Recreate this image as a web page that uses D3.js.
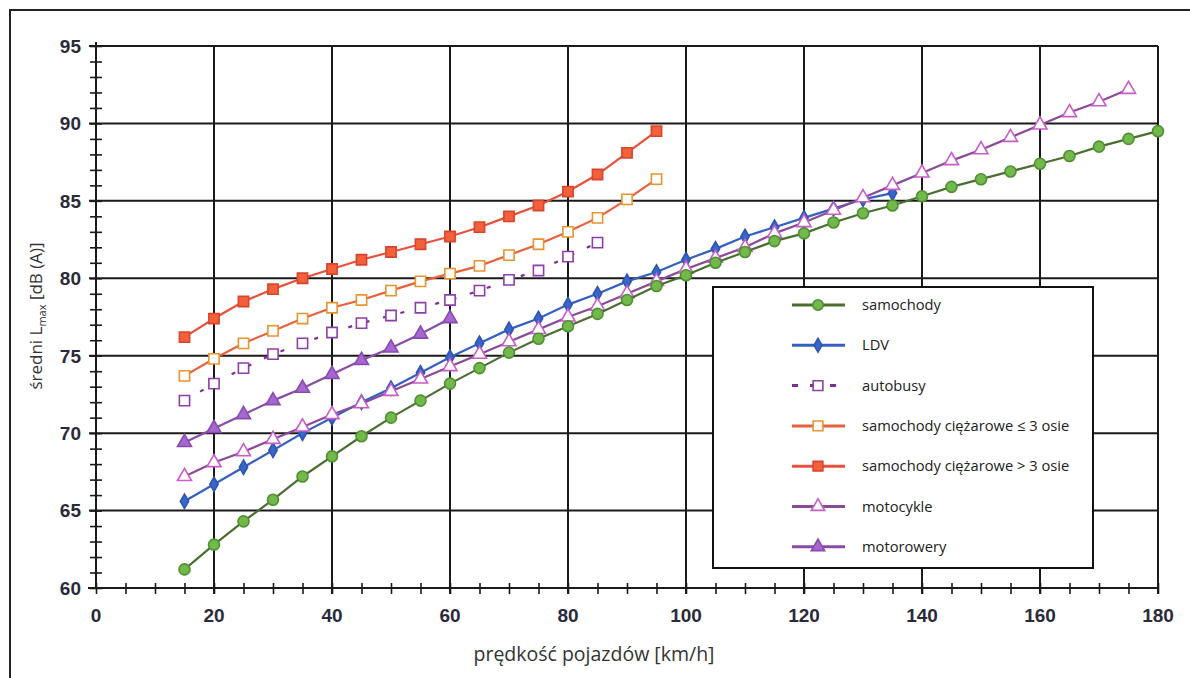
<!DOCTYPE html>
<html>
<head>
<meta charset="utf-8">
<script src="https://cdn.jsdelivr.net/npm/d3@7"></script>
<style>
  body { margin: 0; background: #fff; }
  svg { display: block; }
</style>
</head>
<body>
<script>
// speeds [km/h] and mean Lmax [dB(A)]
const speeds = [15, 20, 25, 30, 35, 40, 45, 50, 55, 60, 65, 70, 75, 80, 85, 90, 95, 100,
    105, 110, 115, 120, 125, 130, 135, 140, 145, 150, 155, 160, 165, 170, 175, 180];

const samochody = [61.2, 62.8, 64.3, 65.7, 67.2, 68.5, 69.8, 71.0, 72.1, 73.2, 74.2, 75.2,
    76.1, 76.9, 77.7, 78.6, 79.5, 80.2, 81.0, 81.7, 82.4, 82.9, 83.6, 84.2, 84.7, 85.3,
    85.9, 86.4, 86.9, 87.4, 87.9, 88.5, 89.0, 89.5];
const ldv = [65.6, 66.7, 67.8, 68.9, 70.0, 71.0, 72.0, 72.9, 73.9, 74.9, 75.8, 76.7, 77.4,
    78.3, 79.0, 79.8, 80.4, 81.2, 81.9, 82.7, 83.3, 83.9, 84.5, 85.1, 85.5];
const autobusy = [72.1, 73.2, 74.2, 75.1, 75.8, 76.5, 77.1, 77.6, 78.1, 78.6, 79.2, 79.9,
    80.5, 81.4, 82.3];
const ciezarowe3 = [73.7, 74.8, 75.8, 76.6, 77.4, 78.1, 78.6, 79.2, 79.8, 80.3, 80.8, 81.5,
    82.2, 83.0, 83.9, 85.1, 86.4];
const ciezaroweWiecej = [76.2, 77.4, 78.5, 79.3, 80.0, 80.6, 81.2, 81.7, 82.2, 82.7, 83.3,
    84.0, 84.7, 85.6, 86.7, 88.1, 89.5];
const motocykle = [67.2, 68.1, 68.8, 69.6, 70.4, 71.2, 71.9, 72.7, 73.5, 74.3, 75.1, 75.9,
    76.7, 77.5, 78.2, 79.0, 79.8, 80.6, 81.3, 82.0, 82.9, 83.6, 84.4, 85.2, 86.0, 86.8,
    87.6, 88.3, 89.1, 89.9, 90.7, 91.4, 92.2];
const motorowery = [69.4, 70.3, 71.2, 72.1, 72.9, 73.8, 74.7, 75.5, 76.4, 77.4];

const xTicks = [0, 20, 40, 60, 80, 100, 120, 140, 160, 180];
const yTicks = [60, 65, 70, 75, 80, 85, 90, 95];

const series = [
    {label: "samochody ciężarowe > 3 osie", values: ciezaroweWiecej, line: "#e8503c", symbol: d3.symbolSquare, size: 105, fill: "#f2603c", stroke: "#d8452c", dash: null},
    {label: "samochody ciężarowe ≤ 3 osie", values: ciezarowe3, line: "#e8603c", symbol: d3.symbolSquare, size: 105, fill: "#fff", stroke: "#e8942e", dash: null},
    {label: "autobusy", values: autobusy, line: "#7a2e90", symbol: d3.symbolSquare, size: 105, fill: "#fff", stroke: "#8c3fa8", dash: "4,14"},
    {label: "motorowery", values: motorowery, line: "#8a4aa8", symbol: d3.symbolTriangle, size: 85, fill: "#a468d0", stroke: "#8a4ab0", dash: null},
    {label: "LDV", values: ldv, line: "#3560c0", symbol: d3.symbolDiamond, size: 60, fill: "#3a66c8", stroke: "#2e56b0", dash: null},
    {label: "motocykle", values: motocykle, line: "#8a4a98", symbol: d3.symbolTriangle, size: 85, fill: "#fff", stroke: "#c85cc8", dash: null},
    {label: "samochody", values: samochody, line: "#4a6e30", symbol: d3.symbolCircle, size: 95, fill: "#72b84a", stroke: "#4f9032", dash: null}
];
const legendOrder = ["samochody", "LDV", "autobusy", "samochody ciężarowe ≤ 3 osie",
    "samochody ciężarowe > 3 osie", "motocykle", "motorowery"];

const W = 1190, H = 678;
const plot = {left: 96, right: 1158, top: 46, bottom: 588};

const svg = d3.select("body").append("svg")
    .attr("width", W)
    .attr("height", H);

// outer frame
svg.append("path")
    .attr("d", "M10," + H + "V10H" + W)
    .attr("fill", "none")
    .attr("stroke", "#222")
    .attr("stroke-width", 2);

const xScale = d3.scaleLinear().domain([0, 180]).range([plot.left, plot.right]);
const yScale = d3.scaleLinear().domain([60, 95]).range([plot.bottom, plot.top]);

// grid
const grid = svg.append("g").attr("stroke", "#1a1a1a").attr("stroke-width", 2);
grid.selectAll(".gx")
    .data(xTicks.filter(d => d > 0))
    .enter().append("line")
    .attr("x1", d => xScale(d)).attr("x2", d => xScale(d))
    .attr("y1", plot.top).attr("y2", plot.bottom + 6);
grid.selectAll(".gy")
    .data(yTicks.filter(d => d > 60))
    .enter().append("line")
    .attr("x1", plot.left - 7).attr("x2", plot.right)
    .attr("y1", d => yScale(d)).attr("y2", d => yScale(d));

// axes with minor ticks crossing the line
const yAxis = d3.axisLeft(yScale).tickValues(d3.range(60, 95.1, 1)).tickSize(6).tickFormat("");
const yAxisG = svg.append("g")
    .attr("transform", "translate(" + plot.left + ",0)")
    .call(yAxis);
yAxisG.select(".domain").remove();
yAxisG.selectAll(".tick line").attr("x2", 6).attr("x1", -6).attr("stroke", "#1a1a1a").attr("stroke-width", 1.6);

const xAxis = d3.axisBottom(xScale).tickValues(d3.range(0, 181, 5)).tickSize(6).tickFormat("");
const xAxisG = svg.append("g")
    .attr("transform", "translate(0," + plot.bottom + ")")
    .call(xAxis);
xAxisG.select(".domain").remove();
xAxisG.selectAll(".tick line").attr("y1", -5).attr("y2", 6).attr("stroke", "#1a1a1a").attr("stroke-width", 1.6);

svg.append("line")
    .attr("x1", plot.left).attr("x2", plot.left)
    .attr("y1", plot.top - 4).attr("y2", plot.bottom)
    .attr("stroke", "#1a1a1a").attr("stroke-width", 2);
svg.append("line")
    .attr("x1", plot.left - 8).attr("x2", plot.right)
    .attr("y1", plot.bottom).attr("y2", plot.bottom)
    .attr("stroke", "#1a1a1a").attr("stroke-width", 2);

// tick labels
const tickFont = '"Liberation Sans Narrow", "Liberation Sans", sans-serif';
svg.selectAll(".ylab")
    .data(yTicks)
    .enter().append("text")
    .attr("x", plot.left - 15)
    .attr("y", d => yScale(d))
    .attr("dy", "0.36em")
    .attr("text-anchor", "end")
    .style("font-family", tickFont)
    .style("font-weight", "bold")
    .style("font-size", "19px")
    .attr("fill", "#2a2a3a")
    .text(d => d);
svg.selectAll(".xlab")
    .data(xTicks)
    .enter().append("text")
    .attr("x", d => xScale(d))
    .attr("y", plot.bottom + 34)
    .attr("text-anchor", "middle")
    .style("font-family", tickFont)
    .style("font-weight", "bold")
    .style("font-size", "19px")
    .attr("fill", "#2a2a3a")
    .text(d => d);

// axis titles
svg.append("text")
    .attr("x", 594)
    .attr("y", 661)
    .attr("text-anchor", "middle")
    .style("font-family", '"Open Sans", sans-serif')
    .style("font-size", "19.5px")
    .attr("fill", "#333")
    .text("prędkość pojazdów [km/h]");

const yTitle = svg.append("text")
    .attr("transform", "translate(42,316) rotate(-90)")
    .attr("text-anchor", "middle")
    .style("font-family", '"Open Sans", sans-serif')
    .style("font-size", "17px")
    .attr("fill", "#333");
yTitle.append("tspan").text("średni L");
yTitle.append("tspan").attr("dy", 4).style("font-size", "11px").text("max");
yTitle.append("tspan").attr("dy", -4).text(" [dB (A)]");

// series
const lineGen = d3.line()
    .x((d, i) => xScale(speeds[i]))
    .y(d => yScale(d));

series.forEach(function (s) {
    const g = svg.append("g");
    g.append("path")
        .attr("d", lineGen(s.values))
        .attr("fill", "none")
        .attr("stroke", s.line)
        .attr("stroke-width", 2.2)
        .attr("stroke-dasharray", s.dash);
    g.selectAll("path.mark")
        .data(s.values)
        .enter().append("path")
        .attr("class", "mark")
        .attr("transform", (d, i) => "translate(" + xScale(speeds[i]) + "," + yScale(d) + ")")
        .attr("d", d3.symbol().type(s.symbol).size(s.size))
        .attr("fill", s.fill)
        .attr("stroke", s.stroke)
        .attr("stroke-width", 1.6);
});

// legend
const legend = svg.append("g").attr("transform", "translate(713,287)");
legend.append("rect")
    .attr("width", 380).attr("height", 281)
    .attr("fill", "#fff")
    .attr("stroke", "#111")
    .attr("stroke-width", 2);

const legendItems = legend.selectAll(".item")
    .data(legendOrder.map(l => series.find(s => s.label === l)))
    .enter().append("g")
    .attr("transform", (d, i) => "translate(0," + (18 + i * 40.3) + ")");
legendItems.append("line")
    .attr("x1", 79).attr("x2", 132)
    .attr("stroke", d => d.line)
    .attr("stroke-width", 3)
    .attr("stroke-dasharray", d => d.dash ? "6,12,8,12" : null);
legendItems.append("path")
    .attr("transform", "translate(105,0)")
    .attr("d", d => d3.symbol().type(d.symbol).size(d.size * 0.9)())
    .attr("fill", d => d.fill)
    .attr("stroke", d => d.stroke)
    .attr("stroke-width", 1.6);
legendItems.append("text")
    .attr("x", 149)
    .attr("dy", "0.35em")
    .style("font-family", '"Open Sans", sans-serif')
    .style("font-size", "14.7px")
    .attr("fill", "#222")
    .text(d => d.label);
</script>
</body>
</html>
